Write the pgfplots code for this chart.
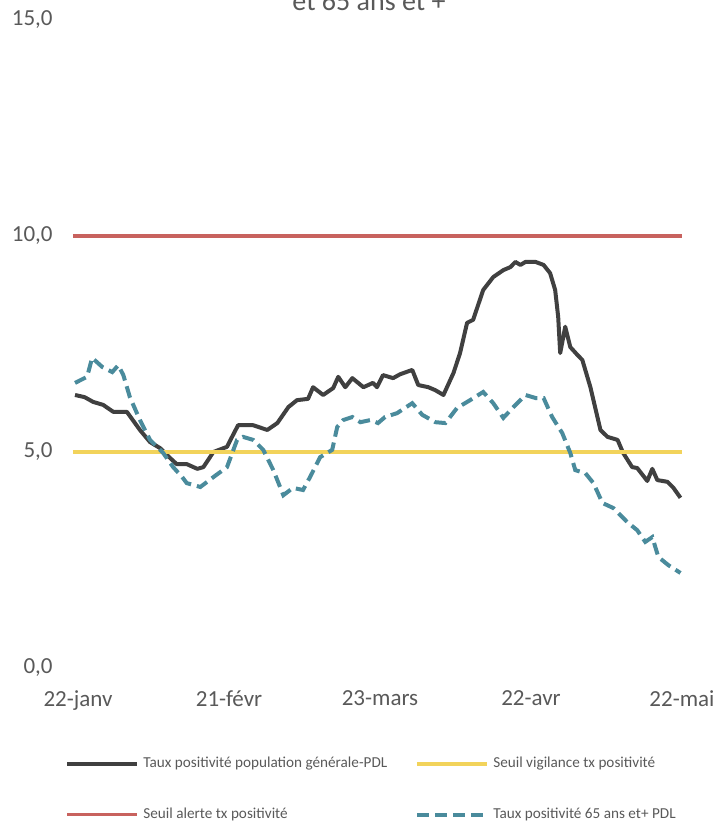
\documentclass[border=0pt]{standalone}
\usepackage{fontspec}
\setmainfont{Carlito}
\usepackage{pgfplots}
\pgfplotsset{compat=1.18}

\definecolor{txtgray}{HTML}{595959}
\definecolor{darkline}{HTML}{404040}
\definecolor{teal65}{HTML}{4A8B9C}
\definecolor{alerte}{HTML}{C8625E}
\definecolor{vigil}{HTML}{F2D35B}

\begin{document}
\begin{tikzpicture}
\begin{axis}[
    at={(0,0)}, anchor=south west,
    scale only axis, width=304.5pt, height=324pt,
    xmin=-1, xmax=120, ymin=0, ymax=15,
    axis line style={draw=none},
    major tick length=0pt,
    xtick={0,30,60,90,120},
    xticklabels={22-janv,21-févr,23-mars,22-avr,22-mai},
    ytick={0,5,10,15},
    yticklabels={{0,0},{5,0},{10,0},{15,0}},
    tick label style={font=\fontsize{11.5}{13}\selectfont, text=txtgray},
    xticklabel style={anchor=north, inner sep=0pt, yshift=-11pt},
    yticklabel style={anchor=east, inner sep=0pt, xshift=-10pt},
    clip=false,
    legend columns=2,
    legend style={draw=none, fill=none, at={(-0.0131,-0.131)}, anchor=north west,
        font=\fontsize{7.6}{9}\selectfont, text=txtgray, inner sep=0pt,
        /tikz/every even column/.append style={column sep=12pt},
        row sep=14.5pt, cells={anchor=west}},
    legend image code/.code={\draw[#1] (0pt,0pt) -- (35pt,0pt);},
]

% taux population generale
\addplot[darkline, line width=2pt, line join=round] coordinates {
(-0.6,6.32)(1.3,6.27)(3,6.16)(5,6.09)(7,5.93)(9.7,5.93)(12.3,5.51)(14.3,5.23)
(16.3,5.09)(18.3,4.86)(19.6,4.72)(21.6,4.72)(23.7,4.61)(24.9,4.65)(26.9,5.0)
(29.6,5.12)(30.6,5.35)(31.8,5.62)(34.8,5.62)(37.6,5.51)(39.6,5.67)(41.8,6.04)
(43.5,6.2)(45.7,6.23)(46.7,6.5)(48.7,6.32)(50.7,6.48)(51.7,6.74)(53.1,6.5)
(54.5,6.71)(56.7,6.5)(58.6,6.6)(59.4,6.5)(60.6,6.78)(62.6,6.71)(64,6.8)
(66.4,6.9)(67.6,6.55)(69.6,6.5)(71,6.43)(72.6,6.32)(74.6,6.83)(75.9,7.29)
(77.3,7.99)(78.5,8.06)(80.5,8.75)(82.5,9.05)(84.5,9.21)(85.9,9.28)(86.9,9.4)
(87.9,9.33)(88.9,9.4)(90.9,9.4)(92.5,9.33)(93.8,9.14)(94.8,8.75)(95.4,8.13)
(95.8,7.29)(96.8,7.9)(97.8,7.43)(99.2,7.25)(100.2,7.13)(101.8,6.5)(103.8,5.51)
(105.2,5.35)(107.2,5.28)(108.3,4.98)(110.1,4.65)(111.1,4.63)(113.1,4.33)
(114.1,4.61)(115.1,4.35)(117.1,4.31)(118.3,4.17)(119.7,3.94)
};
\addlegendentry{Taux positivité population générale-PDL}

\addplot[vigil, line width=1.6pt] coordinates {(-1,5)(120,5)};
\addlegendentry{Seuil vigilance tx positivité}

\addplot[alerte, line width=1.6pt] coordinates {(-1,10)(120,10)};
\addlegendentry{Seuil alerte tx positivité}

% taux 65 ans et plus
\addplot[teal65, line width=2pt, dash pattern=on 6pt off 3pt] coordinates {
(-0.6,6.6)(1.8,6.74)(2.8,7.18)(4.8,6.97)(6.8,6.85)(8,7.01)(9,6.78)(10.3,6.27)
(12.3,5.74)(14.3,5.28)(16.9,4.98)(18.9,4.65)(20.7,4.42)(21.6,4.28)(24.3,4.19)
(26.9,4.42)(29.6,4.65)(31.6,5.28)(32.8,5.35)(34.8,5.28)(36.8,5.05)(38.8,4.58)
(40.8,4.0)(42.7,4.17)(44.7,4.12)(46.1,4.42)(48.1,4.88)(50.5,5.05)(51.5,5.58)
(52.7,5.74)(54.5,5.81)(56.1,5.69)(58.1,5.74)(59.6,5.67)(61,5.81)(63.4,5.9)
(66.4,6.13)(68.4,5.86)(71,5.69)(73,5.67)(75.3,6.02)(77.9,6.2)(80.5,6.39)
(82.5,6.13)(84.5,5.79)(86.5,6.04)(88.9,6.32)(90.9,6.25)(92.5,6.25)(94.2,5.81)
(96.2,5.44)(97.8,4.98)(98.8,4.58)(100.8,4.51)(102.4,4.28)(104.2,3.82)(106.4,3.7)
(109.1,3.38)(111.1,3.19)(112.7,2.92)(114.1,3.03)(115.3,2.57)(117.3,2.38)(119.7,2.2)
};
\addlegendentry{Taux positivité 65 ans et+ PDL}

\end{axis}
\node[anchor=base, font=\fontsize{14}{16}\selectfont, text=txtgray] at (148pt,329pt) {et 65 ans et +};
\pgfresetboundingbox
\useasboundingbox (-36.5pt,-79.5pt) rectangle (321.5pt,334pt);
\end{tikzpicture}
\end{document}
